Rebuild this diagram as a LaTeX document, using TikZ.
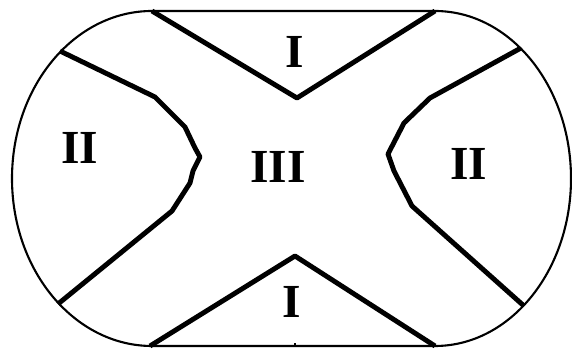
\documentclass[tikz,border=0pt]{standalone}
\usepackage{fontspec}
\setmainfont{Liberation Serif}
\usetikzlibrary{positioning}

\begin{document}
\begin{tikzpicture}[x=0.02cm,y=0.02cm,
    outline/.style={black,line width=1.2pt},
    border/.style={black,line width=2.8pt,line join=round},
    region/.style={font=\fontsize{27}{27}\selectfont\bfseries,inner sep=0pt}]
  \useasboundingbox (0,0) rectangle (572,351);
  % Corners of the stadium
  \coordinate (tl) at (152,340);
  \coordinate (tr) at (435,340);
  \coordinate (bl) at (150,5);
  \coordinate (br) at (435,5);
  % Outer boundary
  \draw[outline] (tl) arc[start angle=90,end angle=270,x radius=140,y radius=167.5]
    -- (br) arc[start angle=-90,end angle=90,x radius=136,y radius=167.5] -- cycle;
  % Upper and lower wedges
  \draw[border] (tl) -- (297,253) -- (tr);
  \draw[border] (bl) -- (295,95) -- (br);
  % Side curves
  \draw[border] (60,300) -- (155,254) -- (185,224) -- (195,203) -- (200,194)
    -- (193,180) -- (190,168) -- (172,140) -- (58,47);
  \draw[border] (521,303) -- (430,253) -- (404,228) -- (388,197) -- (394,180)
    -- (412,145) -- (524,45);
  \draw[outline] (295,5) -- (295,8);
  % Labels
  \node[region] (top) at (295,299) {I};
  \node[region] (bottom) at (292,49) {I};
  \node[region] (left) at (80,203) {II};
  \node[region] (right) at (469,187) {II};
  \node[region] (middle) at (278,184) {III};
\end{tikzpicture}
\end{document}
